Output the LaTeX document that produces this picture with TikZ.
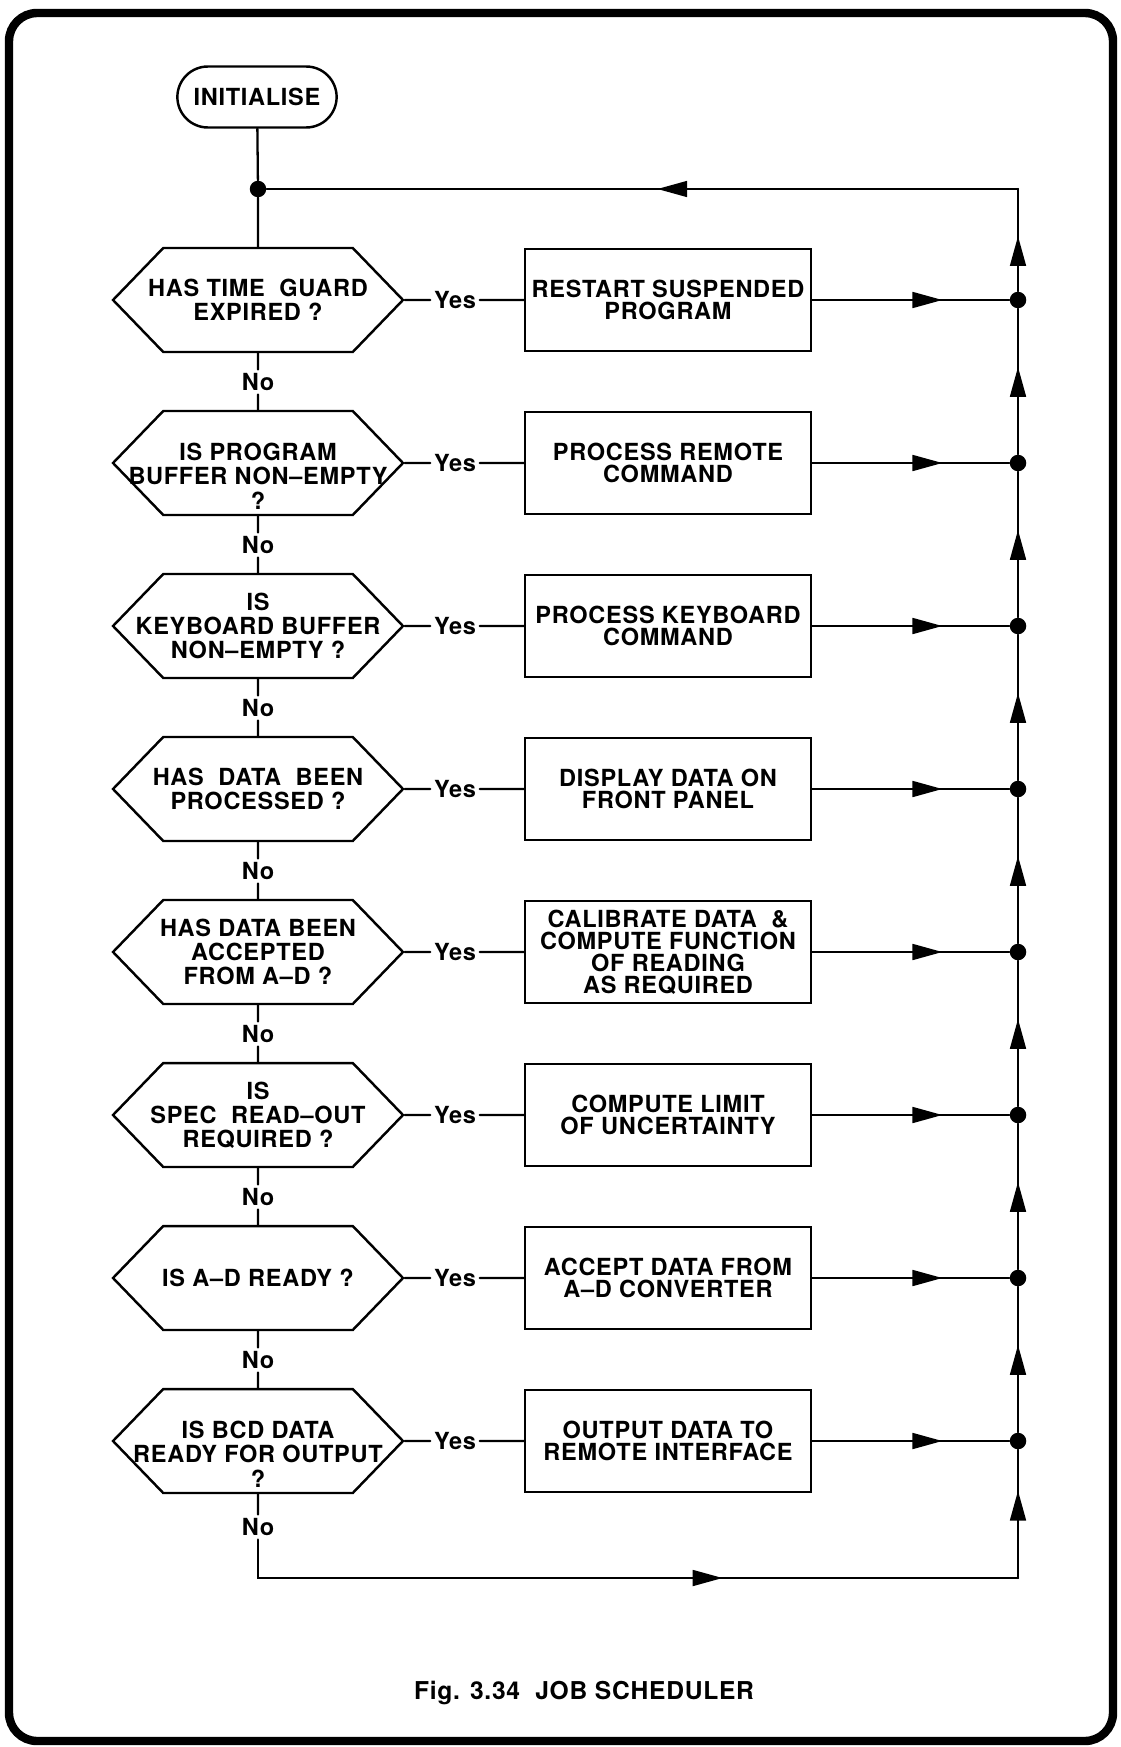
\documentclass[tikz,border=0pt]{standalone}
\usepackage{fontspec}
\setmainfont[LetterSpace=3]{TeX Gyre Heros}
\usetikzlibrary{shapes.misc,shapes.symbols,arrows.meta,decorations.markings}

% question text: fixed width, may run over the hexagon edges
\newcommand{\qtxt}[2][-5.3pt]{\makebox[3.4cm]{\smash{\raisebox{#1}{\begin{tabular}{@{}c@{}}#2\end{tabular}}}}}

\tikzset{
  flow/.style={line width=1.3pt, line cap=round},
  term/.style={draw, line width=1.4pt, rounded rectangle, minimum width=3.42cm, minimum height=1.22cm},
  test/.style={draw, line width=1.4pt, signal, signal to=east and west, signal pointer angle=92,
    minimum width=5.8cm, minimum height=2.08cm, inner sep=0pt},
  task/.style={draw, line width=1.4pt, rectangle, minimum width=5.72cm, minimum height=2.04cm, align=center},
  ans/.style={inner sep=2pt},
  joint/.style={circle, fill, inner sep=0pt, minimum size=0.33cm},
  fwd/.style={flow, postaction={decorate}, decoration={markings,
    mark=at position #1 with {\arrow{Triangle[length=17pt,width=9pt]}}}},
}

\begin{document}
\begin{tikzpicture}[x=0.02cm, y=-0.02cm, font=\bfseries\fontsize{13.4}{12.5}\selectfont]
  \useasboundingbox (0,0) rectangle (1120,1747);

  % frame
  \draw[line width=4.8pt, rounded corners=16pt] (9,13) rectangle (1113,1741);

  % start
  \node[term] (init) at (257,97) {INITIALISE};
  \node[joint] (hub) at (258,189) {};
  \coordinate (top) at (1018,189);

  % tests
  \node[test] (t1) at (258,300) {\qtxt{HAS TIME\ \ GUARD\\EXPIRED ?}};
  \node[test] (t2) at (258,463) {\qtxt[-13pt]{IS PROGRAM\\BUFFER NON--EMPTY\\?}};
  \node[test] (t3) at (258,626) {\qtxt{IS\\KEYBOARD BUFFER\\NON--EMPTY ?}};
  \node[test] (t4) at (258,789) {\qtxt{HAS\ \ DATA\ \ BEEN\\PROCESSED ?}};
  \node[test] (t5) at (258,952) {\qtxt{HAS DATA BEEN\\ACCEPTED\\FROM A--D ?}};
  \node[test] (t6) at (258,1115) {\qtxt{IS\\SPEC\ \ READ--OUT\\REQUIRED ?}};
  \node[test] (t7) at (258,1278) {\qtxt{IS A--D READY ?}};
  \node[test] (t8) at (258,1441) {\qtxt[-13pt]{IS BCD DATA\\READY FOR OUTPUT\\?}};

  % actions
  \node[task] (a1) at (668,300) {RESTART SUSPENDED\\PROGRAM};
  \node[task] (a2) at (668,463) {PROCESS REMOTE\\COMMAND};
  \node[task] (a3) at (668,626) {PROCESS KEYBOARD\\COMMAND};
  \node[task] (a4) at (668,789) {DISPLAY DATA ON\\FRONT PANEL};
  \node[task] (a5) at (668,952) {CALIBRATE DATA \ \&\\COMPUTE FUNCTION\\OF READING\\AS REQUIRED};
  \node[task] (a6) at (668,1115) {COMPUTE LIMIT\\OF UNCERTAINTY};
  \node[task] (a7) at (668,1278) {ACCEPT DATA FROM\\A--D CONVERTER};
  \node[task] (a8) at (668,1441) {OUTPUT DATA TO\\REMOTE INTERFACE};

  % yes / no
  \node[ans] (y1) at (455,300) {Yes};
  \node[ans] (y2) at (455,463) {Yes};
  \node[ans] (y3) at (455,626) {Yes};
  \node[ans] (y4) at (455,789) {Yes};
  \node[ans] (y5) at (455,952) {Yes};
  \node[ans] (y6) at (455,1115) {Yes};
  \node[ans] (y7) at (455,1278) {Yes};
  \node[ans] (y8) at (455,1441) {Yes};
  \node[ans] (n1) at (258,382) {No};
  \node[ans] (n2) at (258,545) {No};
  \node[ans] (n3) at (258,708) {No};
  \node[ans] (n4) at (258,871) {No};
  \node[ans] (n5) at (258,1034) {No};
  \node[ans] (n6) at (258,1197) {No};
  \node[ans] (n7) at (258,1360) {No};
  \node[ans] (n8) at (258,1527) {No};

  % return bus
  \node[joint] (j1) at (1018,300) {};
  \node[joint] (j2) at (1018,463) {};
  \node[joint] (j3) at (1018,626) {};
  \node[joint] (j4) at (1018,789) {};
  \node[joint] (j5) at (1018,952) {};
  \node[joint] (j6) at (1018,1115) {};
  \node[joint] (j7) at (1018,1278) {};
  \node[joint] (j8) at (1018,1441) {};
  \coordinate (bl) at (258,1578);
  \coordinate (br) at (1018,1578);

  % caption
  \node (cap) at (584,1693) {\fontsize{14}{16}\selectfont Fig. 3.34\ \ JOB SCHEDULER};

  % connectors
  \draw[flow] (init) -- (hub) (hub) -- (t1);
  \draw[fwd=0.48] (top) -- (hub);
  \draw[fwd=0.54] (j1) -- (top);
  \draw[flow] (t1) -- (y1) (y1) -- (a1) (t1) -- (n1) (n1) -- (t2);
  \draw[flow] (t2) -- (y2) (y2) -- (a2) (t2) -- (n2) (n2) -- (t3);
  \draw[flow] (t3) -- (y3) (y3) -- (a3) (t3) -- (n3) (n3) -- (t4);
  \draw[flow] (t4) -- (y4) (y4) -- (a4) (t4) -- (n4) (n4) -- (t5);
  \draw[flow] (t5) -- (y5) (y5) -- (a5) (t5) -- (n5) (n5) -- (t6);
  \draw[flow] (t6) -- (y6) (y6) -- (a6) (t6) -- (n6) (n6) -- (t7);
  \draw[flow] (t7) -- (y7) (y7) -- (a7) (t7) -- (n7) (n7) -- (t8);
  \draw[flow] (t8) -- (y8) (y8) -- (a8) (t8) -- (n8);
  \draw[fwd=0.66] (a1) -- (j1);
  \draw[fwd=0.66] (a2) -- (j2);
  \draw[fwd=0.66] (a3) -- (j3);
  \draw[fwd=0.66] (a4) -- (j4);
  \draw[fwd=0.66] (a5) -- (j5);
  \draw[fwd=0.66] (a6) -- (j6);
  \draw[fwd=0.66] (a7) -- (j7);
  \draw[fwd=0.66] (a8) -- (j8);
  \draw[fwd=0.6] (j2) -- (j1);
  \draw[fwd=0.6] (j3) -- (j2);
  \draw[fwd=0.6] (j4) -- (j3);
  \draw[fwd=0.6] (j5) -- (j4);
  \draw[fwd=0.6] (j6) -- (j5);
  \draw[fwd=0.6] (j7) -- (j6);
  \draw[fwd=0.6] (j8) -- (j7);
  \draw[fwd=0.63] (n8) -- (bl) -- (br);
  \draw[fwd=0.68] (br) -- (j8);
\end{tikzpicture}
\end{document}
